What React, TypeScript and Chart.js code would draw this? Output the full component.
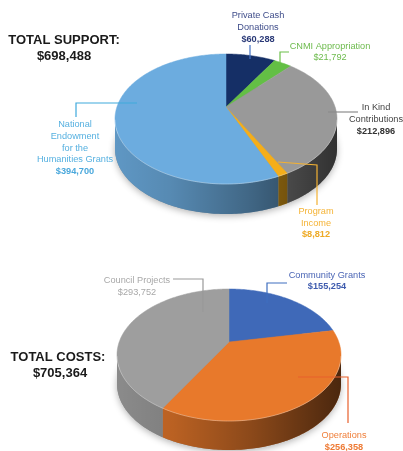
import React, { useEffect, useRef } from "react";
import { Chart, registerables } from "chart.js";

Chart.register(...registerables);

// ---- data ----
const supportCategories = ["Private Cash Donations", "CNMI Appropriation", "In Kind Contributions", "Program Income", "National Endowment for the Humanities Grants"];
const supportValues = [60288, 21792, 212896, 8812, 394700];
const supportColors = ["#152f66", "#63bf45", "#999999", "#f5ae1a", "#6cacdf"];

const costCategories = ["Community Grants", "Operations", "Council Projects"];
const costValues = [155254, 256358, 293752];
const costColors = ["#3f69b8", "#e8792b", "#9e9e9e"];

// ---- layout ----
const FONT = '"Liberation Sans"';
const SMALL = `9.2px ${FONT}`;
const SMALL_BOLD = `bold 9.2px ${FONT}`;
const TITLE = `bold 13px ${FONT}`;
type Txt = [string, number, number, string, string];
type Line = [string, number[]];

const supportTexts: Txt[] = [
  ["TOTAL SUPPORT:", 64, 40, "#1a1a1a", TITLE],
  ["$698,488", 64, 56, "#1a1a1a", TITLE],
  ["Private Cash", 258, 15, "#3f4d8a", SMALL],
  ["Donations", 258, 27, "#3f4d8a", SMALL],
  ["$60,288", 258, 39, "#2b3a78", SMALL_BOLD],
  ["CNMI Appropriation", 330, 46, "#6dbb4d", SMALL],
  ["$21,792", 330, 57, "#6dbb4d", SMALL],
  ["In Kind", 376, 107, "#444444", SMALL],
  ["Contributions", 376, 119, "#444444", SMALL],
  ["$212,896", 376, 131, "#333333", SMALL_BOLD],
  ["National", 75, 124, "#55b0e0", SMALL],
  ["Endowment", 75, 136, "#55b0e0", SMALL],
  ["for the", 75, 148, "#55b0e0", SMALL],
  ["Humanities Grants", 75, 159, "#55b0e0", SMALL],
  ["$394,700", 75, 171, "#4aa8dc", SMALL_BOLD],
  ["Program", 316, 211, "#f5b335", SMALL],
  ["Income", 316, 223, "#f5b335", SMALL],
  ["$8,812", 316, 234, "#eeaa25", SMALL_BOLD],
];
const costTexts: Txt[] = [
  ["TOTAL COSTS:", 58, 357, "#1a1a1a", TITLE],
  ["$705,364", 60, 373, "#1a1a1a", TITLE],
  ["Council Projects", 137, 280, "#a8a8a8", SMALL],
  ["$293,752", 137, 292, "#a8a8a8", SMALL],
  ["Community Grants", 327, 275, "#4a65b5", SMALL],
  ["$155,254", 327, 286, "#3f5cae", SMALL_BOLD],
  ["Operations", 344, 435, "#f0803c", SMALL],
  ["$256,358", 344, 447, "#ee7a34", SMALL_BOLD],
];
const supportLines: Line[] = [
  ["#4472c4", [250, 45, 250, 59]],
  ["#6cc04a", [280, 63, 280, 52, 289, 52]],
  ["#8c8c8c", [328, 112, 358, 112]],
  ["#f2b134", [278, 162, 317, 165, 317, 205]],
  ["#3fa9dc", [137, 103, 76, 103, 76, 117]],
];
const costLines: Line[] = [
  ["#999999", [173, 279, 203, 279, 203, 312]],
  ["#3e6ebf", [267, 303, 267, 283, 287, 283]],
  ["#e8602c", [298, 377, 348, 377, 348, 423]],
];
const supportGeom = { cx: 226, cy: 119, rx: 111, ry: 65, apexY: 107, depth: 30 };
const costGeom = { cx: 229, cy: 355, rx: 112, ry: 66, apexY: 342, depth: 29 };

// Perspective pie: arc angles come from Chart.js's own arc elements.
const perspectivePie = {
  id: "perspectivePie",
  beforeDatasetsDraw(chart: any, _a: any, opts: any) {
    const { cx, cy, rx, ry, apexY, depth } = opts.geom;
    const d = (cy - apexY) / ry;
    const k = Math.sqrt(1 - d * d);
    const project = (a: number) => {
      const x = Math.cos(a), y = Math.sin(a), w = 1 - d * y;
      return { x: cx + (rx * x * k) / w, y: cy + (ry * (y - d)) / w, front: (y - d) / w >= 0 };
    };
    const ctx = chart.ctx as CanvasRenderingContext2D;
    const arcs = chart.getDatasetMeta(0).data;
    const colors = chart.data.datasets[0].backgroundColor;
    const sample = (s: number, e: number) => {
      const n = Math.max(2, Math.ceil((e - s) * 60));
      const pts = [];
      for (let i = 0; i <= n; i++) pts.push(project(s + ((e - s) * i) / n));
      return pts;
    };
    ctx.save();
    // soft ground shadow
    ctx.save();
    ctx.shadowColor = "rgba(0,0,0,0.3)";
    ctx.shadowBlur = 7;
    ctx.shadowOffsetY = 2;
    ctx.fillStyle = "#888";
    ctx.beginPath();
    ctx.ellipse(cx, cy + depth, rx, ry, 0, 0, Math.PI * 2);
    ctx.fill();
    ctx.restore();
    // side walls
    const shade = ctx.createLinearGradient(cx - rx, 0, cx + rx, 0);
    shade.addColorStop(0, "rgba(0,0,0,0.12)");
    shade.addColorStop(0.25, "rgba(0,0,0,0.2)");
    shade.addColorStop(0.6, "rgba(0,0,0,0.4)");
    shade.addColorStop(1, "rgba(0,0,0,0.68)");
    arcs.forEach((arc: any, i: number) => {
      const pts = sample(arc.startAngle, arc.endAngle).filter((p: any) => p.front);
      if (pts.length < 2) return;
      const path = () => {
        ctx.beginPath();
        pts.forEach((p: any, j: number) => (j ? ctx.lineTo(p.x, p.y) : ctx.moveTo(p.x, p.y)));
        for (let j = pts.length - 1; j >= 0; j--) ctx.lineTo(pts[j].x, pts[j].y + depth);
        ctx.closePath();
      };
      path();
      ctx.fillStyle = colors[i];
      ctx.fill();
      path();
      ctx.fillStyle = shade;
      ctx.fill();
    });
    // top faces
    arcs.forEach((arc: any, i: number) => {
      const pts = sample(arc.startAngle, arc.endAngle);
      ctx.beginPath();
      ctx.moveTo(cx, apexY);
      pts.forEach((p: any) => ctx.lineTo(p.x, p.y));
      ctx.closePath();
      ctx.fillStyle = colors[i];
      ctx.fill();
      ctx.strokeStyle = colors[i];
      ctx.lineWidth = 0.5;
      ctx.stroke();
    });
    // rim highlight
    ctx.beginPath();
    const rim = sample(-Math.PI / 2, (3 * Math.PI) / 2).filter((p: any) => p.front);
    rim.sort((a: any, b: any) => a.x - b.x);
    rim.forEach((p: any, j: number) => (j ? ctx.lineTo(p.x, p.y) : ctx.moveTo(p.x, p.y)));
    ctx.strokeStyle = "rgba(255,255,255,0.3)";
    ctx.lineWidth = 1;
    ctx.stroke();
    ctx.restore();
    return false;
  },
  afterDraw(chart: any, _a: any, opts: any) {
    const ctx = chart.ctx as CanvasRenderingContext2D;
    ctx.save();
    opts.lines.forEach(([color, p]: Line) => {
      ctx.beginPath();
      ctx.moveTo(p[0], p[1]);
      for (let i = 2; i < p.length; i += 2) ctx.lineTo(p[i], p[i + 1]);
      ctx.strokeStyle = color;
      ctx.lineWidth = 1.2;
      ctx.stroke();
    });
    ctx.textAlign = "center";
    ctx.textBaseline = "middle";
    opts.texts.forEach(([t, x, y, color, font]: Txt) => {
      ctx.font = font;
      ctx.fillStyle = color;
      ctx.fillText(t, x, y);
    });
    ctx.restore();
  },
};

function makePie(canvas: HTMLCanvasElement, labels: string[], data: number[], colors: string[], geom: any, lines: Line[], texts: Txt[]) {
  return new Chart(canvas, {
    type: "pie",
    data: { labels, datasets: [{ data, backgroundColor: colors, borderWidth: 0 }] },
    plugins: [perspectivePie],
    options: {
      animation: false,
      responsive: false,
      devicePixelRatio: 1,
      plugins: {
        legend: { display: false },
        tooltip: { enabled: false },
        perspectivePie: { geom, lines, texts },
      },
    } as any,
  });
}

const layer: React.CSSProperties = { position: "absolute", left: 0, top: 0, width: 403, height: 451, filter: "blur(0.55px)" };

export default function App() {
  const a = useRef<HTMLCanvasElement>(null);
  const b = useRef<HTMLCanvasElement>(null);
  useEffect(() => {
    const c1 = makePie(a.current!, supportCategories, supportValues, supportColors, supportGeom, supportLines, supportTexts);
    const c2 = makePie(b.current!, costCategories, costValues, costColors, costGeom, costLines, costTexts);
    return () => {
      c1.destroy();
      c2.destroy();
    };
  }, []);
  return (
    <div style={{ position: "absolute", left: 0, top: 0, width: 403, height: 451, background: "#fff", overflow: "hidden" }}>
      <canvas ref={a} width={403} height={451} style={layer} />
      <canvas ref={b} width={403} height={451} style={layer} />
    </div>
  );
}
